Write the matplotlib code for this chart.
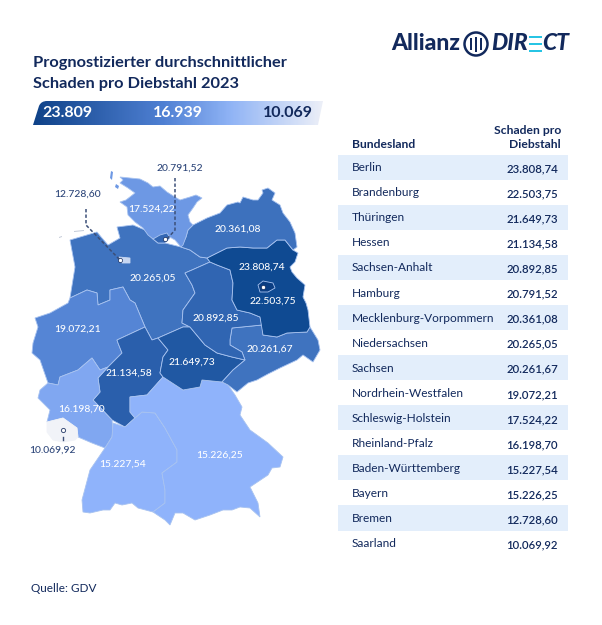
#!/usr/bin/env python3
# -*- coding: utf-8 -*-
"""Prognostizierter Schaden pro Diebstahl 2023, Karte und Tabelle"""

import numpy as np
import matplotlib
matplotlib.use('Agg')
import matplotlib.pyplot as plt
from matplotlib.colors import LinearSegmentedColormap, Normalize
from matplotlib.patches import Circle, Polygon, Rectangle, PathPatch
from matplotlib.path import Path

plt.rcParams['font.family'] = ['Lato', 'DejaVu Sans']

# Tabelle
states = ['Berlin', 'Brandenburg', 'Thüringen', 'Hessen', 'Sachsen-Anhalt', 'Hamburg',
          'Mecklenburg-Vorpommern', 'Niedersachsen', 'Sachsen', 'Nordrhein-Westfalen',
          'Schleswig-Holstein', 'Rheinland-Pfalz', 'Baden-Württemberg', 'Bayern',
          'Bremen', 'Saarland']
damage = [23808.74, 22503.75, 21649.73, 21134.58, 20892.85, 20791.52,
          20361.08, 20265.05, 20261.67, 19072.21,
          17524.22, 16198.70, 15227.54, 15226.25,
          12728.60, 10069.92]
scale_labels = ['23.809', '16.939', '10.069']

# Umrisse der Länder (Bildpixel)
outline_sh = [(120, 177), (130, 178), (140, 179), (148, 183), (153, 187), (160, 186), (167, 192),
              (175, 197), (180, 200), (190, 197), (196, 195), (202, 198), (197, 202), (193, 208),
              (188, 215), (190, 222), (193, 225), (188, 230), (186, 237), (183, 245), (181, 247),
              (175, 240), (168, 236), (160, 236), (153, 239), (148, 235), (143, 228), (135, 222),
              (128, 215), (127, 207), (120, 202), (126, 200), (135, 193), (128, 188), (120, 183),
              (123, 180)]
outline_hh = [(153, 239), (160, 235), (167, 233), (170, 238), (165, 243), (158, 243)]
outline_mv = [(181, 247), (186, 237), (188, 230), (193, 225), (207, 218), (220, 213), (227, 205),
              (238, 202), (240, 203), (243, 197), (253, 200), (258, 200), (263, 193), (262, 190),
              (268, 188), (275, 193), (272, 200), (280, 205), (283, 213), (290, 222), (295, 233),
              (297, 247), (293, 250), (285, 240), (277, 240), (267, 248), (253, 248), (240, 247),
              (227, 248), (207, 258), (200, 257), (190, 250)]
outline_bb = [(207, 258), (227, 248), (240, 247), (253, 248), (267, 248), (277, 240), (285, 240),
              (293, 250), (298, 253), (295, 262), (290, 267), (292, 272), (297, 278), (305, 285),
              (303, 297), (306, 303), (308, 310), (310, 327), (307, 332), (287, 333), (277, 337),
              (263, 335), (260, 317), (250, 313), (237, 310), (232, 300), (233, 283), (230, 270),
              (217, 265), (210, 262)]
outline_be = [(258, 285), (263, 281), (273, 283), (275, 288), (268, 292), (260, 292)]
outline_st = [(185, 273), (192, 270), (210, 262), (217, 265), (230, 270), (233, 283), (232, 300),
              (237, 310), (250, 313), (260, 317), (262, 325), (232, 328), (230, 340), (230, 345),
              (242, 352), (245, 360), (232, 357), (217, 353), (205, 345), (190, 327), (182, 323),
              (183, 310), (195, 293), (192, 285)]
outline_sn = [(232, 328), (262, 325), (263, 335), (277, 337), (287, 333), (307, 332), (310, 327),
              (318, 340), (320, 350), (313, 362), (303, 355), (297, 360), (280, 368), (268, 374),
              (257, 380), (248, 383), (237, 392), (228, 385), (222, 382), (233, 370), (245, 360),
              (242, 352), (230, 345), (230, 340)]
outline_th = [(158, 338), (183, 327), (190, 327), (205, 345), (217, 353), (232, 357), (245, 360),
              (233, 370), (222, 382), (212, 381), (202, 380), (200, 387), (183, 390), (163, 377),
              (160, 373), (163, 357), (168, 350)]
outline_he = [(117, 340), (145, 327), (152, 340), (158, 338), (168, 350), (163, 357), (160, 373),
              (163, 377), (147, 395), (130, 397), (130, 412), (135, 418), (125, 427), (112, 420),
              (93, 400), (100, 392), (98, 378), (108, 367), (122, 353), (118, 343)]
outline_ni = [(70, 240), (97, 232), (102, 238), (108, 245), (120, 238), (117, 227), (133, 225),
              (145, 230), (153, 239), (158, 243), (165, 243), (181, 247), (190, 250), (200, 257),
              (207, 258), (210, 262), (192, 270), (185, 273), (192, 285), (195, 293), (183, 310),
              (182, 323), (190, 327), (183, 327), (158, 338), (152, 340), (145, 327), (135, 303),
              (130, 300), (123, 287), (110, 290), (110, 300), (98, 305), (97, 293), (87, 290),
              (70, 298), (75, 267)]
outline_hb = [(119, 257), (130, 258), (130, 263), (122, 263)]
outline_nw = [(70, 298), (87, 290), (97, 293), (98, 305), (110, 300), (110, 290), (123, 287),
              (130, 300), (135, 303), (145, 327), (117, 340), (118, 343), (122, 353), (108, 367),
              (100, 370), (92, 358), (78, 370), (60, 377), (58, 385), (48, 383), (40, 360),
              (32, 353), (33, 343), (38, 327), (35, 318), (50, 313), (68, 303)]
outline_rp = [(40, 390), (48, 383), (58, 385), (60, 377), (78, 370), (92, 358), (100, 370),
              (108, 367), (98, 378), (100, 392), (93, 400), (112, 420), (113, 430), (112, 437),
              (105, 448), (92, 443), (78, 437), (77, 428), (63, 418), (47, 422), (50, 410), (38, 398)]
outline_sl = [(47, 422), (63, 418), (77, 428), (78, 437), (75, 440), (63, 442), (53, 440), (47, 432)]
outline_bw = [(113, 423), (125, 427), (135, 418), (142, 412), (155, 413), (165, 428), (177, 450),
              (177, 462), (162, 473), (165, 490), (165, 503), (153, 512), (138, 508), (132, 503),
              (122, 505), (115, 503), (110, 510), (103, 510), (90, 513), (83, 512), (82, 500),
              (90, 470), (105, 448), (112, 437)]
outline_by = [(130, 397), (147, 395), (163, 377), (183, 390), (200, 387), (202, 380), (222, 382),
              (228, 385), (235, 395), (242, 407), (240, 415), (250, 430), (268, 443), (283, 457),
              (280, 467), (272, 468), (268, 475), (250, 487), (258, 503), (260, 517), (250, 508),
              (240, 507), (232, 510), (223, 510), (210, 515), (195, 520), (183, 513), (175, 513),
              (170, 525), (165, 520), (153, 512), (165, 503), (165, 490), (162, 473), (177, 462),
              (177, 450), (165, 428), (155, 413), (142, 412), (135, 418), (130, 412)]

# Zeichenreihenfolge: kleine Länder zuletzt
outlines = {'Niedersachsen': outline_ni, 'Nordrhein-Westfalen': outline_nw, 'Hessen': outline_he,
            'Rheinland-Pfalz': outline_rp, 'Saarland': outline_sl, 'Baden-Württemberg': outline_bw,
            'Bayern': outline_by, 'Thüringen': outline_th, 'Sachsen': outline_sn,
            'Sachsen-Anhalt': outline_st, 'Brandenburg': outline_bb,
            'Mecklenburg-Vorpommern': outline_mv, 'Schleswig-Holstein': outline_sh,
            'Hamburg': outline_hh, 'Bremen': outline_hb, 'Berlin': outline_be}

# Inseln vor der Küste
islands_sh = [[(111, 171), (113, 172), (112, 180), (110, 178)],
              [(116, 184), (119, 186), (118, 189), (115, 187)]]
islands_ni = [[(74, 231), (84, 230), (84, 231), (74, 232)],
              [(59, 237), (62, 236), (62, 237), (59, 238)]]

# Position der Werte auf der Karte
label_pos = {'Hamburg': (180, 168), 'Bremen': (77, 194), 'Schleswig-Holstein': (152, 209),
             'Mecklenburg-Vorpommern': (238, 229), 'Berlin': (262, 267), 'Brandenburg': (273, 301),
             'Niedersachsen': (153, 278), 'Nordrhein-Westfalen': (77, 329),
             'Sachsen-Anhalt': (216, 318), 'Sachsen': (270, 349), 'Thüringen': (192, 362),
             'Hessen': (129, 373), 'Rheinland-Pfalz': (81, 409), 'Saarland': (52, 450),
             'Baden-Württemberg': (123, 464), 'Bayern': (220, 455)}
dark_labels = ['Hamburg', 'Bremen', 'Saarland']

NAVY = '#12295c'
LABEL_DARK = '#2b4478'
BAND = '#e3eefb'
CYAN = '#27c4e4'


def german(value):
    """23808.74 -> 23.808,74"""
    return f'{value:,.2f}'.replace(',', 'X').replace('.', ',').replace('X', '.')


fig = plt.figure(figsize=(6.02, 6.25), dpi=100)
ax = fig.add_axes([0, 0, 1, 1])

# Farbskala über die Werte
vmin, vmax = min(damage), max(damage)
norm = Normalize(vmin, vmax)
cmap = LinearSegmentedColormap.from_list('schaden', [
    (0.0, '#f1f3f8'),
    (norm(12728.60), '#c6d6f1'),
    (norm(15226.25), '#8fb3fb'),
    (norm(19072.21), '#5585d5'),
    (norm(20265.05), '#3f73bf'),
    (norm(21134.58), '#2b60ad'),
    (norm(22503.75), '#0f4a92'),
    (1.0, '#0a3d82')])
value_of = dict(zip(states, damage))

# Karte
for name, outline in outlines.items():
    color = cmap(norm(value_of[name]))
    edge = color if name in ('Saarland', 'Bremen') else '#a8c3f0'
    ax.add_patch(Polygon(outline, closed=True, facecolor=color, edgecolor=edge,
                         linewidth=0.6, zorder=2))
for island in islands_sh:
    ax.add_patch(Polygon(island, closed=True, facecolor=cmap(norm(value_of['Schleswig-Holstein'])),
                         edgecolor='none', zorder=2))
for island in islands_ni:
    ax.add_patch(Polygon(island, closed=True, facecolor='#c4cbd8', edgecolor='none', zorder=2))

# Hinweislinien Hamburg, Bremen, Saarland
ax.plot([175, 175, 167], [178, 230, 239], color='#3c4f78', lw=1.1, ls=(0, (2.2, 1.4)), zorder=3)
ax.plot([86, 86, 120], [209, 225, 260], color='#3c4f78', lw=1.1, ls=(0, (2.2, 1.4)), zorder=3)
ax.plot([63, 63], [437, 439.5], color='#3c4f78', lw=1.0, zorder=3)
ax.scatter([165, 120, 263], [239, 260, 287], s=9, c='white', edgecolors='#12295c',
           linewidths=0.5, zorder=4)
ax.scatter([63], [430], s=9, c='white', edgecolors='#3c4f78', linewidths=0.7, zorder=4)

for name, (x, y) in label_pos.items():
    ax.text(x, y, german(value_of[name]), ha='center', va='center', fontsize=7.4,
            fontweight='medium', color=LABEL_DARK if name in dark_labels else 'white', zorder=5)

# Titel
ax.text(33, 63, 'Prognostizierter durchschnittlicher', fontsize=11.8, fontweight='bold',
        color=NAVY, va='center')
ax.text(33, 84, 'Schaden pro Diebstahl 2023', fontsize=11.8, fontweight='bold',
        color=NAVY, va='center')

# Farbverlauf-Leiste
scale_cmap = LinearSegmentedColormap.from_list('leiste', [
    (0.0, '#0f4288'), (0.45, '#4f80d3'), (0.68, '#8fb3f5'), (1.0, '#eceff8')])
bar = ax.imshow(np.linspace(0, 1, 300)[None, :], extent=(33, 323, 125, 101), cmap=scale_cmap,
                aspect='auto', zorder=2)
bar_path = Path([(33, 125), (39, 106), (41, 101), (47, 101), (323, 101), (318, 125), (33, 125)],
                [Path.MOVETO, Path.LINETO, Path.CURVE3, Path.CURVE3, Path.LINETO, Path.LINETO,
                 Path.CLOSEPOLY])
clip = PathPatch(bar_path, transform=ax.transData, facecolor='none', edgecolor='none')
ax.add_patch(clip)
bar.set_clip_path(clip)
for text, x, col in zip(scale_labels, [67, 178, 288], ['white', 'white', NAVY]):
    ax.text(x, 113, text, ha='center', va='center', fontsize=11.5, fontweight='bold',
            color=col, zorder=3)

# Logo
ax.text(391, 44, 'Allianz', fontsize=16.5, fontweight='black', color=NAVY, va='center', ha='left')
ax.add_patch(Circle((476, 44), 11.5, facecolor='white', edgecolor=NAVY, linewidth=1.8))
for dx, h in zip([-5, 0, 5], [12, 15, 12]):
    ax.add_patch(Rectangle((476 + dx - 1.3, 44 - h / 2), 2.6, h, facecolor=NAVY, edgecolor='none'))
ax.text(491, 44, 'DIR', fontsize=16.5, fontweight='black', fontstyle='italic', color=NAVY,
        va='center', ha='left')
for y in [37, 44, 51]:
    ax.add_patch(Rectangle((529, y - 1.3), 13, 2.6, facecolor=CYAN, edgecolor='none'))
ax.text(542, 44, 'CT', fontsize=16.5, fontweight='black', fontstyle='italic', color=NAVY,
        va='center', ha='left')

# Tabelle
ax.text(352, 144, 'Bundesland', fontsize=8.7, fontweight='bold', color=NAVY, va='center')
ax.text(561, 130, 'Schaden pro', fontsize=8.7, fontweight='bold', color=NAVY, va='center', ha='right')
ax.text(561, 144, 'Diebstahl', fontsize=8.7, fontweight='bold', color=NAVY, va='center', ha='right')
row_h = 25.07
for i, (name, value) in enumerate(zip(states, damage)):
    y = 167 + i * row_h
    if i % 2 == 0:
        ax.add_patch(Rectangle((338, y - 12.5), 230, row_h, facecolor=BAND, edgecolor='none', zorder=1))
    ax.text(352, y + 0.7, name, fontsize=8.6, color=NAVY, va='center', zorder=2)
    ax.text(558, y + 1.8, german(value), fontsize=8.2, fontweight='semibold', color=NAVY,
            va='center', ha='right', zorder=2)

ax.text(31, 589, 'Quelle: GDV', fontsize=8.5, color=NAVY, va='center')

ax.set_xlim(0, 602)
ax.set_ylim(625, 0)
ax.axis('off')

fig.savefig('out.png', dpi=100)
